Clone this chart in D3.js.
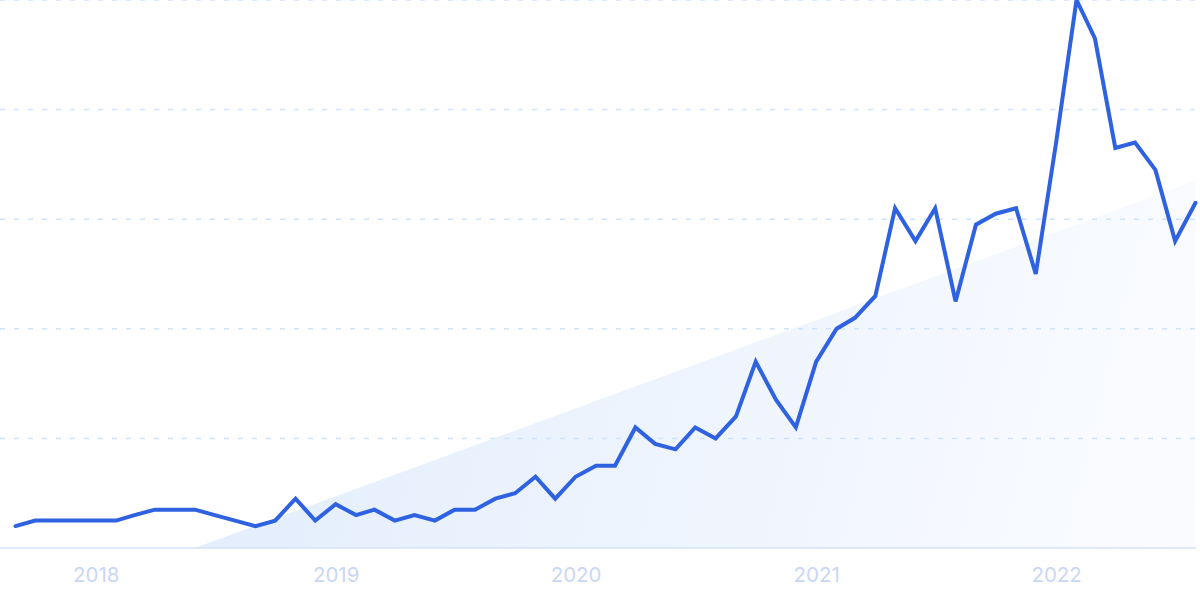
<!DOCTYPE html>
<html lang="en">

<head>
  <meta charset="UTF-8" />
  <script src="https://d3js.org/d3.v7.min.js"></script>
  <style>
    body {
      margin: 0;
      background: #fff;
    }

    .x.axis text {
      font-family: Inter, "Noto Sans", sans-serif;
      font-size: 20.5px;
      fill: #cad7f4;
    }

    .x.axis .domain,
    .x.axis line {
      display: none;
    }
  </style>
</head>

<body>
  <svg id="chart" width="1200" height="600"></svg>

  <script>
    // monthly interest, first month is Sep 2017
    const startMonth = "2017-09";
    const values = [4, 5, 5, 5, 5, 5, 6, 7, 7, 7,
      6, 5, 4, 5, 9, 5, 8, 6, 7, 5,
      6, 5, 7, 7, 9, 10, 13, 9, 13, 15,
      15, 22, 19, 18, 22, 20, 24, 34, 27, 22,
      34, 40, 42, 46, 62, 56, 62, 45, 59, 61,
      62, 50, 74, 100, 93, 73, 74, 69, 56, 63];
    const yearTicks = ["2018", "2019", "2020", "2021", "2022"];
    const gridValues = [20, 40, 60, 80, 100];
    const trendMonths = ["2018-06", "2022-08"];
    const trendValues = [0, 67];

    const svg = d3.select("#chart");
    const width = +svg.attr("width");
    const height = +svg.attr("height");
    const margin = { top: 0, right: 4, bottom: 52, left: 15.5 };
    const plotBottom = height - margin.bottom;

    const parseMonth = d3.timeParse("%Y-%m");
    const parseYear = d3.timeParse("%Y");
    const start = parseMonth(startMonth);
    const data = values.map((v, i) => ({ date: d3.timeMonth.offset(start, i), value: v }));

    const x = d3.scaleTime()
      .domain(d3.extent(data, d => d.date))
      .range([margin.left, width - margin.right - 0.5]);
    const y = d3.scaleLinear()
      .domain([0, 100])
      .range([plotBottom, margin.top]);

    const defs = svg.append("defs");
    const grad = defs.append("linearGradient")
      .attr("id", "trendFill")
      .attr("gradientUnits", "userSpaceOnUse")
      .attr("x1", 200).attr("y1", 300)
      .attr("x2", 1200).attr("y2", 548);
    grad.append("stop").attr("offset", "0%").attr("stop-color", "#e2edfc");
    grad.append("stop").attr("offset", "100%").attr("stop-color", "#fbfcff");

    // trend area
    const trend = trendMonths.map((m, i) => ({ date: parseMonth(m), value: trendValues[i] }));
    const area = d3.area()
      .x(d => x(d.date))
      .y0(y(0))
      .y1(d => y(d.value));
    svg.append("path")
      .datum(trend)
      .attr("fill", "url(#trendFill)")
      .attr("d", area);

    // gridlines
    let gridlines = svg.append("g").attr("class", "gridlines");
    gridlines.selectAll("line").data(gridValues)
      .join("line")
      .attr("x1", 0)
      .attr("x2", width - margin.right)
      .attr("y1", d => y(d))
      .attr("y2", d => y(d))
      .attr("stroke", "#cfe4fb")
      .attr("stroke-width", 1.5)
      .attr("stroke-dasharray", "5,9");

    svg.append("line")
      .attr("x1", 0)
      .attr("x2", width - margin.right)
      .attr("y1", y(0))
      .attr("y2", y(0))
      .attr("stroke", "#d4e2fa")
      .attr("stroke-width", 1.5);

    // x axis
    const bottomAxis = d3.axisBottom(x)
      .tickValues(yearTicks.map(parseYear))
      .tickFormat(d3.timeFormat("%Y"))
      .tickSize(0)
      .tickPadding(19);
    svg.append("g")
      .attr("class", "x axis")
      .attr("transform", `translate(0,${plotBottom})`)
      .call(bottomAxis);

    // line
    const line = d3.line()
      .x(d => x(d.date))
      .y(d => y(d.value));
    svg.append("path")
      .datum(data)
      .attr("fill", "none")
      .attr("stroke", "#2f62e1")
      .attr("stroke-width", 4)
      .attr("stroke-linecap", "round")
      .attr("d", line);
  </script>
</body>

</html>
